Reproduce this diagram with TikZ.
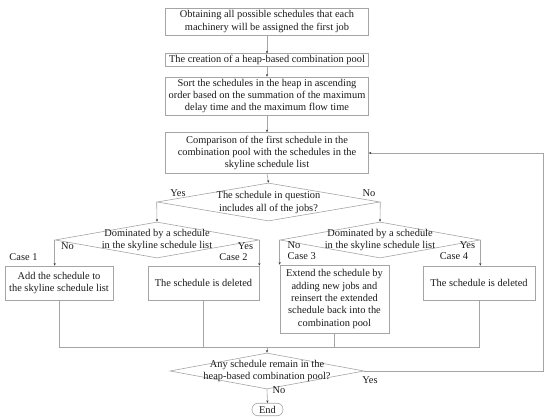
\documentclass[tikz,border=0pt]{standalone}
\usepackage{fontspec}
\setmainfont{Liberation Serif}
\usetikzlibrary{shapes.geometric,arrows.meta}
\definecolor{lineg}{RGB}{165,165,165}
\begin{document}
\begin{tikzpicture}[x=1pt,y=-1pt,
  every node/.style={font=\fontsize{10.4}{12.4}\selectfont, text=black!90},
  box/.style={draw=lineg, line width=0.6pt, rectangle, inner sep=0pt, align=center},
  dia/.style={draw=lineg, line width=0.6pt, diamond, inner sep=0pt},
  dtxt/.style={inner sep=0pt, align=center},
  lbl/.style={inner sep=0pt},
  conn/.style={draw=lineg, line width=0.6pt},
  arr/.style={conn, -{Stealth[length=2.6pt,width=2.2pt,color=black!80]}}
]
\useasboundingbox (0,0) rectangle (550,419);

% main column
\node[box, minimum width=203pt, minimum height=27pt] (b1) at (267,21.6)
  {Obtaining all possible schedules that each\\machinery will be assigned the first job};
\node[box, minimum width=203pt, minimum height=12.5pt] (b2) at (267,60)
  {The creation of a heap-based combination pool};
\node[box, minimum width=203pt, minimum height=38pt] (b3) at (267,96)
  {Sort the schedules in the heap in ascending\\order based on the summation of the maximum\\delay time and the maximum flow time};
\node[box, minimum width=203pt, minimum height=41pt] (b4) at (267,153)
  {Comparison of the first schedule in the\\combination pool with the schedules in the\\skyline schedule list};

% decision 1
\node[dia, minimum width=223pt, minimum height=38pt] (d1) at (268.5,202) {};
\node[dtxt] (d1t) at (268.5,202.5) {The schedule in question\\includes all of the jobs?};

% decision 2 and 3
\node[dia, minimum width=204pt, minimum height=36pt] (d2) at (157,240) {};
\node[dtxt] (d2t) at (157,240) {Dominated by a schedule\\in the skyline schedule list};
\node[dia, minimum width=200pt, minimum height=36pt] (d3) at (380,240) {};
\node[dtxt] (d3t) at (380,240) {Dominated by a schedule\\in the skyline schedule list};

% case boxes
\node[box, minimum width=108pt, minimum height=34pt] (add) at (59,283)
  {Add the schedule to\\the skyline schedule list};
\node[box, minimum width=111pt, minimum height=34pt] (del2) at (203.5,283)
  {The schedule is deleted};
\node[box, minimum width=109pt, minimum height=68pt] (ext) at (334.5,299)
  {Extend the schedule by\\adding new jobs and\\reinsert the extended\\schedule back into the\\combination pool};
\node[box, minimum width=112pt, minimum height=34pt] (del4) at (479,283)
  {The schedule is deleted};

% decision 4 and end
\node[dia, minimum width=194pt, minimum height=36pt] (d4) at (267,371) {};
\node[dtxt] (d4t) at (267,371) {Any schedule remain in the\\heap-based combination pool?};
\node[draw=lineg, line width=0.6pt, rectangle, rounded corners=6pt, inner sep=0pt,
  minimum width=31pt, minimum height=12.5pt] (end) at (267.5,409.5) {End};

% labels
\node[lbl] (y1) at (178,193) {Yes};
\node[lbl] (n1) at (369,193) {No};
\node[lbl] (n2) at (67.5,246.5) {No};
\node[lbl] (c1) at (23.5,257) {Case 1};
\node[lbl] (y2) at (245.5,246.5) {Yes};
\node[lbl] (c2) at (233.5,257) {Case 2};
\node[lbl, anchor=west] (n3) at (287.5,245) {No};
\node[lbl, anchor=west] (c3) at (287.5,256.5) {Case 3};
\node[lbl] (y3) at (467.5,245) {Yes};
\node[lbl] (c4) at (454,256.5) {Case 4};
\node[lbl] (y4) at (370,380) {Yes};
\node[lbl] (n4) at (279,390) {No};

\coordinate (bus) at (267,347.5);
\coordinate (fbr) at (543.5,0);

% connectors
\draw[arr] (b1.south) -- (b2.north);
\draw[arr] (b2.south) -- (b3.north);
\draw[arr] (b3.south) -- (b4.north);
\draw[arr] (b4.south) -- (d1.north);
\draw[arr] (d1.west) -- (d2.north);
\draw[arr] (d1.east) -- (d3.north);
\draw[arr] (d2.west) -- (d2.west |- add.north);
\draw[arr] (d2.east) -- (d2.east |- del2.north);
\draw[arr] (d3.west) -- (d3.west |- ext.north);
\draw[arr] (d3.east) -- (d3.east |- del4.north);
\draw[conn] (add.south) -- (add.south |- bus) -- (del4.south |- bus) -- (del4.south);
\draw[conn] (del2.south) -- (del2.south |- bus);
\draw[conn] (ext.south) -- (ext.south |- bus);
\draw[arr] (bus) -- (d4.north);
\draw[arr] (d4.south) -- (end.north);
\draw[arr] (d4.east) -- (d4.east -| fbr) -- (b4.east -| fbr) -- (b4.east);
\end{tikzpicture}
\end{document}
